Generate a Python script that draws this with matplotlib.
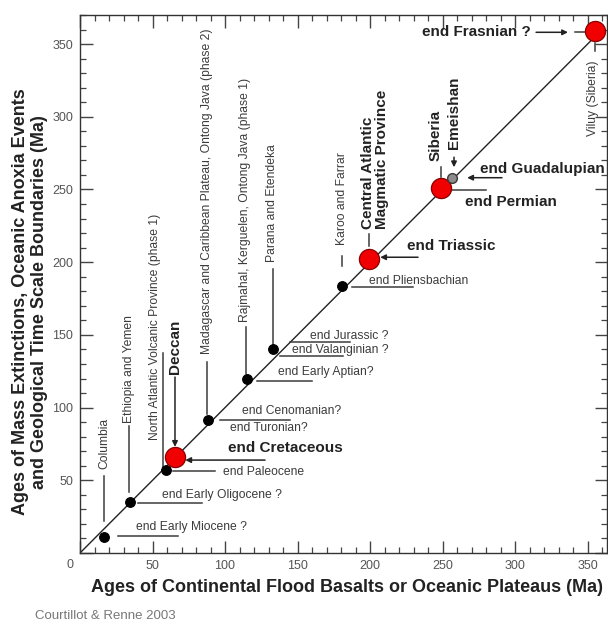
import matplotlib.pyplot as plt
from matplotlib.ticker import MultipleLocator, FuncFormatter

plt.rcParams['font.family'] = ['Liberation Sans', 'DejaVu Sans']

# age of each flood basalt / oceanic plateau vs. age of the event it lines up with (Ma)
lip_age = [16.5, 34.5, 59.3, 65.5, 88.5, 115.0, 133.3, 181.0, 199.5, 249.0, 256.8, 355.0]
event_age = [11.2, 34.8, 57.0, 65.8, 91.5, 119.6, 140.2, 183.7, 202.0, 251.3, 258.2, 359.0]
marker_kind = ['dot', 'dot', 'dot', 'big', 'dot', 'dot', 'dot', 'dot', 'big', 'big', 'grey', 'big']

provinces = ['Columbia', 'Ethiopia and Yemen', 'North Atlantic Volcanic Province (phase 1)',
             'Deccan', 'Madagascar and Caribbean Plateau, Ontong Java (phase 2)',
             'Rajmahal, Kerguelen, Ontong Java (phase 1)', 'Parana and Etendeka',
             'Karoo and Farrar', 'Central Atlantic\nMagmatic Province', 'Siberia', 'Emeishan',
             'Viluy (Siberia)']
province_bold = [False, False, False, True, False, False, False, False, True, True, True, False]

events = ['end Early Miocene ?', 'end Early Oligocene ?', 'end Paleocene', 'end Cretaceous',
          'end Turonian?', 'end Cenomanian?', 'end Early Aptian?', 'end Valanginian ?',
          'end Jurassic ?', 'end Pliensbachian', 'end Triassic', 'end Permian',
          'end Guadalupian', 'end Frasnian ?']
event_bold = [False, False, False, True, False, False, False, False, False, False,
              True, True, True, True]

# label placement, data units: vertical labels (x, bottom of text)
province_pos = [(16.6, 57.7), (34.0, 89.3), (51.7, 77.7), (65.5, 123.0), (87.6, 136.8),
                (114.1, 158.8), (132.4, 200.0), (180.7, 211.7), (203.4, 222.7),
                (245.5, 269.4), (257.9, 277.7), (353.8, 286.6)]
# vertical leaders (x, from y, to y, arrow head)
province_lead = [(16.6, 52.9, 22.0, False), (34.0, 87.0, 42.0, False), (57.2, 137.5, 59.1, False),
                 (65.5, 121.0, 73.0, True), (87.9, 131.3, 95.5, False), (114.5, 155.3, 123.0, False),
                 (132.8, 195.2, 143.6, False), (180.8, 204.1, 197.3, False),
                 (199.3, 219.2, 211.0, False), (249.0, 265.3, 258.4, False),
                 (257.9, 272.2, 265.3, True), (355.0, 351.0, 345.0, False)]
# horizontal labels (left x, centre y); the last one is right-aligned
event_pos = [(38.6, 17.9), (56.6, 39.9), (98.6, 55.7), (102.0, 72.2), (103.4, 85.9),
             (111.7, 97.6), (136.6, 124.4), (146.2, 139.5), (158.6, 149.1), (199.3, 187.0),
             (225.5, 211.0), (265.5, 241.6), (275.9, 263.9), (311.0, 358.1)]
# horizontal leaders (from x, to x, y, arrow head)
event_lead = [(26.2, 67.6, 11.7, False), (40.0, 84.1, 34.4, False), (64.1, 93.1, 56.4, False),
              (127.6, 72.6, 63.9, True), (96.6, 144.8, 91.4, False), (122.0, 160.0, 118.2, False),
              (138.0, 181.4, 135.4, False), (144.8, 186.2, 145.0, False),
              (187.6, 229.7, 182.8, False), (233.1, 207.0, 203.4, True),
              (255.9, 280.0, 249.8, False), (291.0, 267.0, 258.1, True),
              (314.5, 336.5, 358.1, True), (341.4, 348.3, 358.1, False)]

ink = '#222222'
soft = '#3c3c3c'

fig = plt.figure(figsize=(6.08, 6.23), dpi=100)
ax = fig.add_axes([80 / 608, 1 - 553 / 623, 527 / 608, 538 / 623])
ax.set_xlim(0, 363.4)
ax.set_ylim(0, 370)

ax.plot([0, 360], [0, 360], color=ink, lw=1.0, zorder=2)

styles = {
    'dot': dict(ms=7, mfc='black', mec='black', mew=0.8),
    'big': dict(ms=14.5, mfc='#f00000', mec='#8a0000', mew=0.9),
    'grey': dict(ms=7, mfc='#8c8c8c', mec='#3a3a3a', mew=1.0),
}
for x, y, k in zip(lip_age, event_age, marker_kind):
    ax.plot(x, y, 'o', zorder=4, **styles[k])

def leader(x0, y0, x1, y1, arrow):
    if arrow:
        ax.annotate('', xy=(x1, y1), xytext=(x0, y0),
                    arrowprops=dict(arrowstyle='-|>', color=ink, lw=1.1, mutation_scale=8,
                                    shrinkA=0, shrinkB=0), zorder=3)
    else:
        ax.plot([x0, x1], [y0, y1], color=soft, lw=1.1, zorder=3)

for name, bold, (x, y) in zip(provinces, province_bold, province_pos):
    ax.text(x, y, name, rotation=90, ha='center', va='bottom', multialignment='left',
            fontsize=11 if bold else 8.7, fontweight='bold' if bold else 'normal',
            color=ink if bold else soft, linespacing=1.05, zorder=5)
for x, ya, yb, arrow in province_lead:
    leader(x, ya, x, yb, arrow)

for i, (name, bold, (x, y)) in enumerate(zip(events, event_bold, event_pos)):
    ax.text(x, y, name, ha='right' if i == len(events) - 1 else 'left', va='center',
            fontsize=11 if bold else 8.7, fontweight='bold' if bold else 'normal',
            color=ink if bold else soft, zorder=5)
for xa, xb, y, arrow in event_lead:
    leader(xa, y, xb, y, arrow)

# axes styling: inward ticks on all four sides
for s in ax.spines.values():
    s.set_color('#333333')
    s.set_linewidth(1.0)
ax.xaxis.set_major_locator(MultipleLocator(50))
ax.xaxis.set_minor_locator(MultipleLocator(10))
ax.yaxis.set_major_locator(MultipleLocator(50))
ax.yaxis.set_minor_locator(MultipleLocator(10))
no_zero = FuncFormatter(lambda v, p: '' if v == 0 else f'{v:.0f}')
ax.xaxis.set_major_formatter(no_zero)
ax.yaxis.set_major_formatter(no_zero)
ax.tick_params(which='both', direction='in', top=True, right=True, colors='#444444',
               labelcolor='#555555', labelsize=9)
ax.tick_params(which='major', length=9, width=1.0, pad=5)
ax.tick_params(which='minor', length=4.5, width=0.9)
ax.text(-6.9, -8.2, '0', ha='center', va='center', fontsize=9, color='#555555', clip_on=False)

fig.text(347 / 608, 1 - 588 / 623, 'Ages of Continental Flood Basalts or Oceanic Plateaus (Ma)',
         ha='center', va='center', fontsize=13, fontweight='bold', color=ink)
fig.text(30 / 608, 1 - 302 / 623,
         'Ages of Mass Extinctions, Oceanic Anoxia Events\nand Geological Time Scale Boundaries (Ma)',
         ha='center', va='center', rotation=90, multialignment='center', linespacing=1.1,
         fontsize=13, fontweight='bold', color=ink)
fig.text(35 / 608, 1 - 616 / 623, 'Courtillot & Renne 2003', ha='left', va='center',
         fontsize=9.5, color='#777777')

fig.savefig('out.png', dpi=100)
